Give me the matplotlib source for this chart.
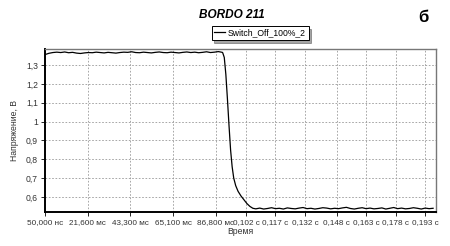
import numpy as np
import matplotlib
matplotlib.use("Agg")
import matplotlib.pyplot as plt

plt.rcParams['font.family'] = ['Liberation Sans', 'DejaVu Sans']

# upper plateau, sampled every 2 ms from 0 to 90 ms
t_high = np.arange(0, 46) * 0.002
v_high = [1.355, 1.362, 1.366, 1.368, 1.366, 1.369, 1.365, 1.367, 1.363, 1.361,
          1.364, 1.366, 1.365, 1.368, 1.366, 1.364, 1.367, 1.365, 1.363, 1.366,
          1.368, 1.367, 1.370, 1.366, 1.365, 1.368, 1.366, 1.364, 1.367, 1.369,
          1.366, 1.365, 1.368, 1.366, 1.364, 1.367, 1.369, 1.366, 1.368, 1.365,
          1.367, 1.370, 1.366, 1.368, 1.371, 1.367]

# switch-off edge
t_edge = [0.0902, 0.0910, 0.0918, 0.0926, 0.0934, 0.0942, 0.0950, 0.0958,
          0.0968, 0.0980, 0.0995, 0.1010, 0.1025, 0.1040, 0.1055]
v_edge = [1.365, 1.34, 1.25, 1.12, 0.98, 0.85, 0.76, 0.70,
          0.66, 0.63, 0.605, 0.585, 0.565, 0.550, 0.540]

# lower plateau
t_low = 0.107 + np.arange(0, 46) * 0.002
v_low = [0.537, 0.541, 0.536, 0.539, 0.543, 0.538, 0.540, 0.536, 0.542, 0.539,
         0.537, 0.541, 0.544, 0.538, 0.540, 0.536, 0.539, 0.543, 0.541, 0.537,
         0.540, 0.538, 0.542, 0.545, 0.539, 0.536, 0.540, 0.543, 0.538, 0.541,
         0.537, 0.539, 0.542, 0.536, 0.540, 0.544, 0.538, 0.541, 0.537, 0.539,
         0.543, 0.540, 0.536, 0.541, 0.538, 0.540]

x_ticks = [0.0, 0.0216, 0.0433, 0.0651, 0.0868, 0.102, 0.117, 0.132, 0.148, 0.163, 0.178, 0.193]
x_labels = ['50,000 нс', '21,600 мс', '43,300 мс', '65,100 мс', '86,800 мс',
            '0,102 с', '0,117 с', '0,132 с', '0,148 с', '0,163 с', '0,178 с', '0,193 с']
y_ticks = [0.6, 0.7, 0.8, 0.9, 1.0, 1.1, 1.2, 1.3]
y_labels = ['0,6', '0,7', '0,8', '0,9', '1', '1,1', '1,2', '1,3']

t = np.concatenate([t_high, t_edge, t_low])
v = np.concatenate([v_high, v_edge, v_low])

fig = plt.figure(figsize=(4.5, 2.46), dpi=100)
ax = fig.add_axes([0.1, 0.138, 0.869, 0.663])
ax.plot(t, v, color='black', lw=0.9, label='Switch_Off_100%_2')
ax.set_xlim(0, 0.1985)
ax.set_ylim(0.52, 1.385)

ax.set_xticks(x_ticks)
ax.set_xticklabels(x_labels, fontsize=5.9, color='#333333')
ax.set_yticks(y_ticks)
ax.set_yticklabels(y_labels, fontsize=6.2, color='#333333')
ax.tick_params(length=3, width=0.6, pad=2)
ax.grid(True, ls=(0, (2, 2)), color='#999999', lw=0.6)

for s in ['left', 'bottom']:
    ax.spines[s].set_linewidth(1.4)
    ax.spines[s].set_color('black')
for s in ['top', 'right']:
    ax.spines[s].set_linewidth(1.0)
    ax.spines[s].set_color('#777777')

ax.set_ylabel('Напряжение, В', fontsize=6.2, color='#333333', labelpad=5)
ax.set_xlabel('Время', fontsize=6.2, color='#333333', labelpad=1)

fig.text(0.516, 0.937, 'BORDO 211', ha='center', va='center', fontsize=8.5,
         fontweight='bold', style='italic')
fig.text(0.94, 0.928, 'б', ha='center', va='center', fontsize=12, fontweight='bold')

leg = fig.legend(loc='center', bbox_to_anchor=(0.578, 0.866), fontsize=6.2,
                 frameon=True, fancybox=False, shadow=True, handlelength=1.2,
                 borderpad=0.3, handletextpad=0.4, borderaxespad=0)
leg.get_frame().set_edgecolor('black')
leg.get_frame().set_linewidth(0.7)

fig.savefig('out.png', dpi=100)
